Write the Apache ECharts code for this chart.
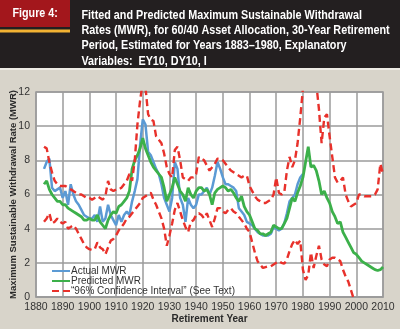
<!DOCTYPE html>
<html><head><meta charset="utf-8">
<script src="https://cdn.jsdelivr.net/npm/echarts@6/dist/echarts.min.js"></script>
<style>html,body{margin:0;padding:0;background:#d8d4ca;}#c{width:400px;height:329px;}</style>
</head><body><div id="c"></div>
<script>
// ---- data ----
var figureLabel = 'Figure 4:';
var titleLines = [
  'Fitted and Predicted Maximum Sustainable Withdrawal',
  'Rates (MWR), for 60/40 Asset Allocation, 30-Year Retirement',
  'Period, Estimated for Years 1883\u20131980, Explanatory',
  'Variables:  EY10, DY10, I'
];
var xTicks = [1880, 2010, 10];   // min, max, step
var yTicks = [0, 12, 2];
var xName = 'Retirement Year';
var yName = 'Maximum Sustainable Withdrawal Rate (MWR)';
var seriesNames = ['Actual MWR', 'Predicted MWR', '\u201C96% Confidence Interval\u201D (See Text)'];

var actualStart = 1883;
var actualMWR = [7.5,7.9,8.1,6.4,6.2,6.3,6.4,5.8,6.2,5.4,6.6,6.0,5.6,5.4,5.1,4.8,4.7,4.6,4.6,4.8,
  4.4,5.3,4.4,4.6,5.4,4.8,4.5,4.2,4.8,4.4,4.8,5.0,4.8,5.6,6.2,6.9,8.9,10.4,10.1,8.5,
  8.3,7.9,7.5,7.2,6.6,5.8,5.4,5.0,5.8,7.9,7.5,5.8,5.4,4.4,5.8,5.4,5.2,5.4,6.0,6.0,
  6.2,6.4,6.0,6.4,7.1,7.9,7.5,7.0,6.6,6.6,6.5,6.4,6.2,5.2,5.0,4.8,4.4,4.3,4.2,4.0,
  3.8,3.7,3.6,3.6,3.6,3.7,4.1,4.0,3.9,4.0,4.3,4.9,5.6,5.8,6.0,6.6,7.0,7.2];

var predStart = 1883;
var predictedMWR = [6.6,6.8,6.3,6.0,5.8,5.6,5.6,5.4,5.4,5.2,5.1,5.0,4.9,4.8,4.7,4.5,4.5,4.6,4.5,4.5,
  4.8,4.4,4.2,4.0,4.5,4.8,5.0,4.9,5.3,5.4,5.6,5.8,6.2,7.5,8.0,8.3,8.7,9.3,8.7,8.3,
  7.9,7.6,7.4,7.2,7.0,6.4,5.6,6.0,6.4,7.0,6.6,6.2,6.0,5.6,6.4,6.0,5.8,6.2,6.4,6.4,
  6.2,6.3,6.0,5.4,6.1,6.3,6.4,6.5,6.4,6.2,6.3,6.1,5.8,5.6,5.9,5.3,5.0,4.8,4.4,4.0,
  3.9,3.7,3.7,3.6,3.7,3.8,4.2,4.1,4.0,4.0,4.3,4.6,5.2,5.8,5.6,6.1,6.5,7.0,7.9,8.8,
  7.6,7.7,7.4,6.8,6.0,6.2,5.8,5.5,5.0,4.7,4.3,4.4,3.8,3.5,3.2,2.9,2.6,2.5,2.3,2.1,
  2.0,1.9,1.8,1.7,1.6,1.55,1.6,1.75];

var ciStart = 1883;
var ciUpper = [8.8,8.7,7.9,7.3,6.8,6.6,6.5,6.5,6.5,6.4,6.3,6.2,6.1,6.0,6.0,5.9,5.8,5.8,5.7,5.8,
  5.9,5.8,5.7,5.9,6.8,6.3,6.2,6.3,6.3,6.4,6.6,6.8,7.2,6.8,8.0,10.1,11.5,12.6,12.3,10.7,
  10.4,10.3,9.4,9.2,9.0,8.4,7.6,7.2,7.0,8.6,8.8,8.0,7.0,6.9,6.8,7.0,7.0,7.2,8.2,8.1,
  8.0,7.7,7.4,7.6,7.8,8.1,8.1,8.0,7.8,7.6,7.4,7.3,7.2,7.1,7.0,7.1,7.1,6.5,6.2,5.9,
  5.7,5.6,5.5,5.5,5.6,5.7,6.0,7.0,6.1,6.0,6.1,7.4,8.2,7.6,8.0,9.0,10.5,12.2,13.0,13.0,
  13.0,13.0,12.5,11.0,9.0,10.5,10.7,9.4,8.2,7.0,6.7,6.8,7.0,6.0,5.6,5.3,5.4,5.5,6.0,6.0,
  5.9,5.9,5.9,5.9,6.0,6.3,7.8,7.2];
var ciLower = [4.4,4.6,4.9,4.3,4.4,4.6,4.4,4.3,4.4,4.0,4.1,4.2,4.0,3.7,3.4,3.1,2.9,2.8,2.75,2.8,
  3.2,2.9,2.8,2.5,2.9,3.3,3.4,3.6,3.9,4.1,4.3,4.6,4.7,4.9,5.1,5.3,5.5,5.8,5.9,6.0,
  6.1,5.7,5.4,5.0,4.6,4.0,3.0,3.6,4.3,5.1,5.5,5.0,4.5,4.1,3.8,4.4,4.5,4.8,4.9,4.8,
  4.6,4.9,4.5,4.1,4.6,5.2,5.2,5.0,4.9,5.1,5.2,5.0,4.9,4.7,4.5,4.3,4.0,3.8,3.2,2.6,
  2.1,1.9,1.7,1.75,1.8,1.8,1.9,2.0,2.1,2.0,1.95,2.2,2.7,3.1,3.35,3.1,3.3,1.6,1.0,1.3,
  2.6,1.7,2.4,3.0,2.2,1.9,1.8,2.2,2.3,2.3,2.2,2.1,1.6,1.2,0.9,0.4,-0.1,-0.6,-0.9,-1.1,
  -1.2,-1.3,-1.4,-1.4,-1.5,-1.5,-1.4,-1.4];

function pairs(start, vals) {
  var out = [];
  for (var i = 0; i < vals.length; i++) out.push([start + i, vals[i]]);
  return out;
}

// ---- chart ----
var chart = echarts.init(document.getElementById('c'), null, {renderer: 'canvas'});
var gridCol = '#9b9b9b';
var txtFont = '"Liberation Sans", sans-serif';
var cBlue = '#5b9ad4', cGreen = '#3cb04a', cRed = '#e8312b';

chart.setOption({
  animation: false,
  backgroundColor: '#d8d4ca',
  graphic: [
    {type: 'rect', shape: {x: 0, y: 0, width: 400, height: 68}, style: {fill: '#231f20'}, z: 0},
    {type: 'rect', shape: {x: 0, y: 68, width: 400, height: 2}, style: {fill: '#ecEAe3'}, z: 0},
    {type: 'rect', shape: {x: 0, y: 0, width: 70, height: 27}, style: {fill: '#a3171c'}, z: 1},
    {type: 'rect', shape: {x: 0, y: 29.5, width: 70, height: 3}, style: {fill: '#f2b233'}, z: 1},
    {type: 'text', x: 12.5, y: 14, scaleX: 0.86, style: {text: figureLabel, fill: '#ffffff', font: 'bold 12.5px ' + txtFont, textVerticalAlign: 'middle'}, z: 2},
    {type: 'text', x: 81.5, y: 7.5, scaleX: 0.83, style: {text: titleLines.join('\n'), fill: '#ffffff', font: 'bold 13px ' + txtFont, lineHeight: 15.3}, z: 2}
  ],
  grid: {left: 36, right: 17, top: 92, bottom: 32, containLabel: false, outerBoundsMode: 'none',
         show: true, backgroundColor: '#ffffff', borderColor: gridCol, borderWidth: 1.5},
  legend: {
    orient: 'vertical', left: 51, top: 266, itemGap: 0, itemWidth: 18, itemHeight: 9,
    data: seriesNames,
    itemStyle: {color: 'rgba(0,0,0,0)', borderWidth: 0, opacity: 0},
    textStyle: {fontFamily: txtFont, fontSize: 10, color: '#333', lineHeight: 9.3, padding: [0, 0, 0, -4]},
    padding: 0
  },
  xAxis: {
    type: 'value', min: xTicks[0], max: xTicks[1], interval: xTicks[2],
    name: xName, nameLocation: 'middle', nameGap: 17, nameMoveOverlap: false,
    nameTextStyle: {fontFamily: txtFont, fontWeight: 'bold', fontSize: 10, color: '#2a2a2a', verticalAlign: 'top'},
    axisLine: {show: true, lineStyle: {color: gridCol, width: 1.5}},
    axisTick: {show: false},
    axisLabel: {fontFamily: txtFont, fontSize: 10.5, color: '#333', margin: 5, formatter: function (v) { return String(v); }},
    splitLine: {show: true, lineStyle: {color: gridCol, width: 1.5}}
  },
  yAxis: {
    type: 'value', min: yTicks[0], max: yTicks[1], interval: yTicks[2],
    name: yName, nameLocation: 'middle', nameGap: 18, nameMoveOverlap: false,
    nameTextStyle: {fontFamily: txtFont, fontWeight: 'bold', fontSize: 9.5, color: '#2a2a2a'},
    axisLine: {show: false}, axisTick: {show: false},
    axisLabel: {fontFamily: txtFont, fontSize: 10.5, color: '#333', margin: 6},
    splitLine: {show: true, lineStyle: {color: gridCol, width: 1.5}}
  },
  series: [
    {name: seriesNames[0], type: 'line', data: pairs(actualStart, actualMWR), symbol: 'none', clip: true,
     lineStyle: {color: cBlue, width: 2.5}, itemStyle: {color: cBlue}, z: 2},
    {name: seriesNames[1], type: 'line', data: pairs(predStart, predictedMWR), symbol: 'none', clip: true,
     lineStyle: {color: cGreen, width: 2.8}, itemStyle: {color: cGreen}, z: 3},
    {name: seriesNames[2], type: 'line', data: pairs(ciStart, ciUpper), symbol: 'none', clip: true,
     lineStyle: {color: cRed, width: 2.4, type: [7, 4]}, itemStyle: {color: cRed}, z: 4},
    {name: seriesNames[2], type: 'line', data: pairs(ciStart, ciLower), symbol: 'none', clip: true,
     lineStyle: {color: cRed, width: 2.4, type: [7, 4]}, itemStyle: {color: cRed}, z: 4}
  ]
});
</script></body></html>
